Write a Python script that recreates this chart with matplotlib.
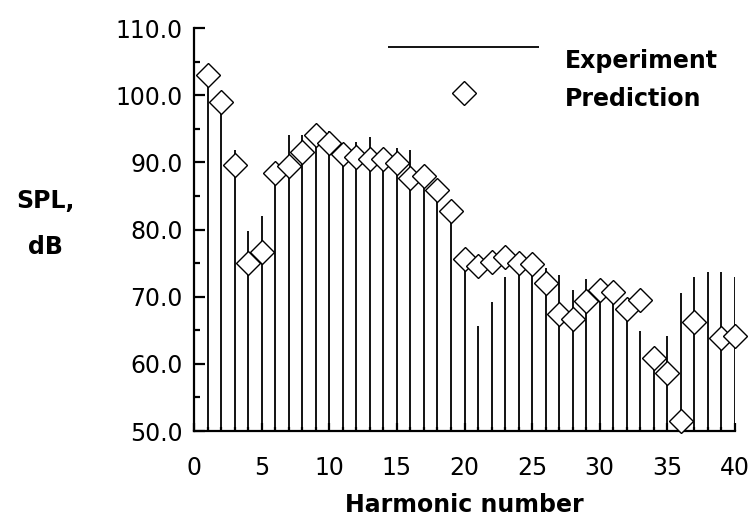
import numpy as np
import matplotlib
matplotlib.use("Agg")
import matplotlib.pyplot as plt
from matplotlib.ticker import MultipleLocator, FormatStrFormatter
from matplotlib.collections import LineCollection
from matplotlib.lines import Line2D
from matplotlib.legend_handler import HandlerLineCollection, HandlerLine2D

plt.rcParams['font.family'] = ['DejaVu Sans']

harmonic = np.arange(1, 41)
experiment = [101.5, 98.0, 91.8, 79.8, 82.0, 87.0, 94.0, 94.1, 95.7, 94.6,
              92.8, 93.1, 93.7, 89.0, 92.1, 91.9, 86.5, 84.5, 81.4, 74.0,
              65.6, 69.2, 72.9, 73.5, 73.5, 74.3, 73.2, 71.0, 72.6, 69.5,
              68.9, 66.7, 64.9, 59.4, 64.2, 70.5, 73.0, 73.6, 73.6, 73.0]
prediction = [103.0, 99.0, 89.6, 75.05, 76.6, 88.4, 89.45, 91.6, 94.0, 92.9,
              91.2, 90.75, 90.5, 90.45, 89.85, 87.7, 87.9, 85.9, 82.75, 75.6,
              74.5, 75.1, 75.85, 75.0, 74.8, 72.1, 67.4, 66.7, 69.35, 71.0,
              70.65, 68.1, 69.5, 60.8, 58.7, 51.5, 66.2, np.nan, 63.8, 64.2]


# legend handles sit a bit above their labels in the original
class RaisedLine(HandlerLineCollection):
    def create_artists(self, legend, orig_handle, xdescent, ydescent,
                       width, height, fontsize, trans):
        return super().create_artists(legend, orig_handle, xdescent,
                                      ydescent - 18, width, height,
                                      fontsize, trans)


class RaisedMarker(HandlerLine2D):
    def create_artists(self, legend, orig_handle, xdescent, ydescent,
                       width, height, fontsize, trans):
        return super().create_artists(legend, orig_handle, xdescent,
                                      ydescent - 7, width, height,
                                      fontsize, trans)


fig = plt.figure(figsize=(7.51, 5.23), dpi=100)
ax = fig.add_axes([194 / 751, 92 / 523, 541 / 751, 403 / 523])

ymin = 50.0
ax.vlines(harmonic, ymin, experiment, color='black', lw=1.3, label='Experiment')
ax.plot(harmonic, prediction, 'D', ms=12, mfc='white', mec='black', mew=1.0,
        ls='none', label='Prediction', zorder=3, clip_on=False)

ax.set_xlim(0, 40)
ax.set_ylim(50, 110)
ax.xaxis.set_major_locator(MultipleLocator(5))
ax.xaxis.set_minor_locator(MultipleLocator(1))
ax.yaxis.set_major_locator(MultipleLocator(10))
ax.yaxis.set_minor_locator(MultipleLocator(5))
ax.yaxis.set_major_formatter(FormatStrFormatter('%.1f'))

for s in ['top', 'right']:
    ax.spines[s].set_visible(False)
for s in ['left', 'bottom']:
    ax.spines[s].set_linewidth(1.6)

ax.tick_params(axis='y', which='major', direction='in', length=8, width=1.6,
               pad=8, labelsize=17)
ax.tick_params(axis='y', which='minor', direction='in', length=4, width=1.6)
ax.tick_params(axis='x', which='major', direction='in', length=6, width=1.6,
               pad=18, labelsize=17)
ax.tick_params(axis='x', which='minor', direction='in', length=3, width=1.6)

ax.set_xlabel('Harmonic number', fontsize=17, fontweight='bold', labelpad=9)
fig.text(45 / 751, 1 - 224 / 523, 'SPL,\ndB', fontsize=17, fontweight='bold',
         ha='center', va='center', multialignment='center', linespacing=2.2)

ax.legend(loc='center left', bbox_to_anchor=(388 / 751, 1 - 80 / 523),
          bbox_transform=fig.transFigure, frameon=False,
          prop={'weight': 'bold', 'size': 17}, handlelength=6.4,
          handletextpad=1.1, labelspacing=0.62, borderpad=0, borderaxespad=0,
          handler_map={LineCollection: RaisedLine(), Line2D: RaisedMarker()})

fig.savefig('out.png', dpi=100)
